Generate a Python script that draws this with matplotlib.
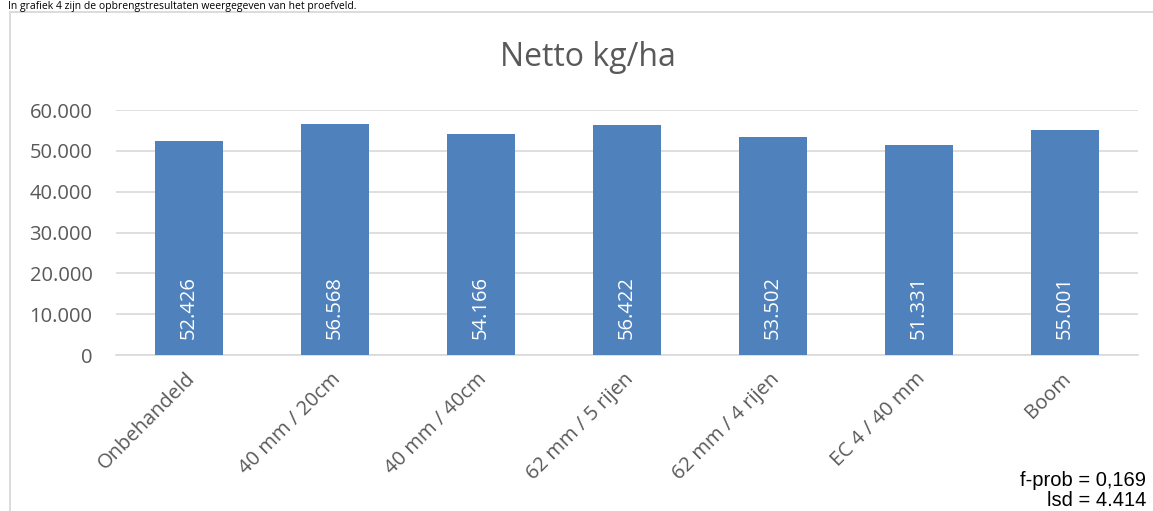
import matplotlib
matplotlib.use("Agg")
import matplotlib.pyplot as plt
from matplotlib.patches import Rectangle
from matplotlib.ticker import FuncFormatter
import matplotlib.transforms as mtrans

categories = ["Onbehandeld", "40 mm / 20cm", "40 mm / 40cm", "62 mm / 5 rijen",
              "62 mm / 4 rijen", "EC 4 / 40 mm", "Boom"]
values = [52426, 56568, 54166, 56422, 53502, 51331, 55001]
yticks = [0, 10000, 20000, 30000, 40000, 50000, 60000]
title = "Netto kg/ha"
notes = ["f-prob = 0,169", "lsd = 4.414"]
intro = "In grafiek 4 zijn de opbrengstresultaten weergegeven van het proefveld."

W, H = 1153, 511
fig = plt.figure(figsize=(W / 100, H / 100), dpi=100)
font = ["Open Sans", "DejaVu Sans"]
txt_col = "#595959"

# chart frame
fig.patches.append(Rectangle((10 / W, -0.1), 1.2, (1 - 12 / H) + 0.1,
                             transform=fig.transFigure, fill=False,
                             edgecolor="#D9D9D9", linewidth=1.3))
# intro text above the chart
fig.text(8 / W, 1 - 1 / H, intro, ha="left", va="top", fontsize=7.5,
         family=font, color="black")

ax = fig.add_axes([116 / W, 1 - 355 / H, (1138 - 116) / W, (355 - 110) / H])
x = list(range(len(categories)))
ax.bar(x, values, width=0.47, color="#4F81BD", zorder=3)
ax.set_xlim(-0.5, len(categories) - 0.5)
ax.set_ylim(0, 60000)
ax.set_yticks(yticks)
ax.yaxis.set_major_formatter(FuncFormatter(lambda v, p: f"{int(v):,}".replace(",", ".")))
ax.grid(axis="y", color="#D9D9D9", linewidth=1.2, zorder=0)
for s in ["top", "right", "left"]:
    ax.spines[s].set_visible(False)
ax.spines["bottom"].set_color("#D9D9D9")
ax.spines["bottom"].set_linewidth(1.2)
ax.tick_params(axis="both", length=0, colors=txt_col, labelsize=14.5)
ax.tick_params(axis="y", pad=17)
ax.tick_params(axis="x", pad=10)
ax.set_xticks(x)
ax.set_xticklabels(categories, rotation=45, ha="right", va="top",
                   rotation_mode="anchor", family=font)
off = mtrans.ScaledTranslation(-4 / 100, 0, fig.dpi_scale_trans)
for lab in ax.get_xticklabels():
    lab.set_transform(lab.get_transform() + off)
for lab in ax.get_yticklabels():
    lab.set_family(font)

for xi, v in zip(x, values):
    ax.text(xi, 4000, f"{v:,}".replace(",", "."), rotation=90, ha="center",
            va="bottom", color="white", fontsize=14.5, family=font)

fig.text(588 / W, 1 - 58 / H, title, ha="center", va="center", fontsize=23,
         family=font, color=txt_col)
fig.text(1146 / W, 1 - 480 / H, notes[0], ha="right", va="center", fontsize=14.5,
         family=["Liberation Sans", "DejaVu Sans"], color="black")
fig.text(1146 / W, 1 - 500 / H, notes[1], ha="right", va="center", fontsize=14.5,
         family=["Liberation Sans", "DejaVu Sans"], color="black")

fig.savefig("out.png", dpi=100, facecolor="white")
